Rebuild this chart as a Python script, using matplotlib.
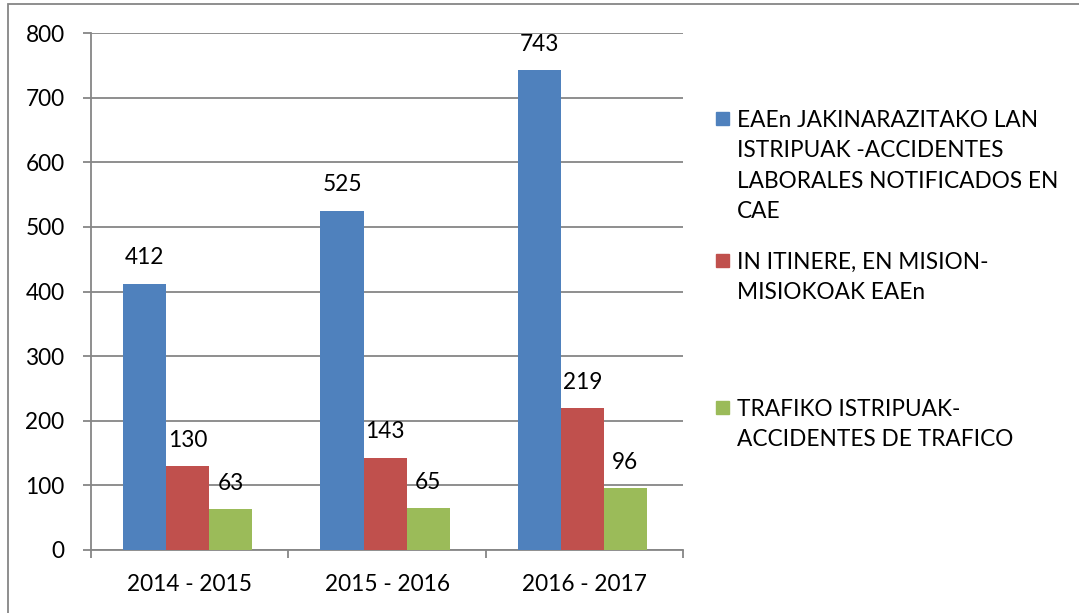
import matplotlib.pyplot as plt
import numpy as np
from matplotlib.patches import Rectangle

periods = ['2014 - 2015', '2015 - 2016', '2016 - 2017']
laborales = [412, 525, 743]
itinere = [130, 143, 219]
trafico = [63, 65, 96]

series_names = [
    'EAEn JAKINARAZITAKO LAN\nISTRIPUAK -ACCIDENTES\nLABORALES NOTIFICADOS EN\nCAE',
    'IN ITINERE, EN MISION-\nMISIOKOAK EAEn',
    'TRAFIKO ISTRIPUAK-\nACCIDENTES DE TRAFICO',
]
colors = ['#4F81BD', '#C0504D', '#9BBB59']

plt.rcParams['font.family'] = ['Lato', 'DejaVu Sans']
fs = 16.3

fig = plt.figure(figsize=(10.79, 6.13), dpi=100)
ax = fig.add_axes([91 / 1079, 1 - 550 / 613, (683 - 91) / 1079, (550 - 33) / 613])

x = np.arange(len(periods))
w = 0.218
for i, vals in enumerate([laborales, itinere, trafico]):
    pos = x + (i - 1) * w - 0.01
    ax.bar(pos, vals, width=w, color=colors[i], zorder=3)
    for px, v in zip(pos, vals):
        ax.annotate(str(v), (px, v), xytext=(0, 11), textcoords='offset points',
                    ha='center', va='bottom', fontsize=fs, zorder=4)

ax.set_xlim(-0.5, 2.5)
ax.set_ylim(0, 800)
ax.set_yticks(range(0, 801, 100))
ax.yaxis.grid(True, color='#868686', linewidth=1.3, zorder=0)
ax.set_xticks(x)
ax.set_xticklabels(periods)
ax.set_xticks([-0.5, 0.5, 1.5, 2.5], minor=True)
ax.tick_params(axis='x', which='major', length=0, pad=17, labelsize=fs)
ax.tick_params(axis='x', which='minor', length=6, width=1.3, color='#868686', direction='out')
ax.tick_params(axis='y', length=6, width=1.3, color='#868686', pad=13, labelsize=fs)
for s in ['top', 'right']:
    ax.spines[s].set_visible(False)
for s in ['left', 'bottom']:
    ax.spines[s].set_color('#868686')
    ax.spines[s].set_linewidth(1.3)

# legend drawn by hand so the square sits on the first line
leg_y = [118, 260, 407]
for c, name, yy in zip(colors, series_names, leg_y):
    fig.patches.append(Rectangle((716 / 1079, 1 - (yy + 6.5) / 613), 13 / 1079, 13 / 613,
                                 transform=fig.transFigure, color=c))
    fig.text(737 / 1079, 1 - (yy - 8) / 613, name, fontsize=fs, va='top', ha='left',
             linespacing=1.55)

# outer chart border
fig.patches.append(Rectangle((8 / 1079, -0.05), 1.1, 1 - 4 / 613 + 0.05, transform=fig.transFigure,
                             fill=False, edgecolor='#868686', linewidth=1.3))

fig.savefig('out.png', dpi=100)
